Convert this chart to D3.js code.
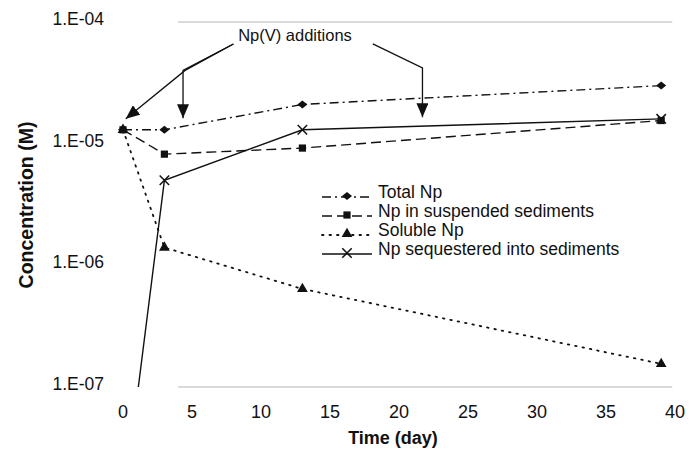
<!DOCTYPE html>
<html>
<head>
<meta charset="utf-8">
<script src="https://cdn.jsdelivr.net/npm/d3@7"></script>
<style>
  body { margin: 0; background: #fff; }
  text { font-family: "Liberation Sans", Arial, sans-serif; fill: #111; }
</style>
</head>
<body>
<div id="chart"></div>
<script>
// data
var days = [0, 3, 13, 39];
var totalNp = [1.3e-5, 1.3e-5, 2.1e-5, 3.0e-5];
var suspendedNp = [1.3e-5, 8.2e-6, 9.2e-6, 1.55e-5];
var solubleNp = [1.3e-5, 1.4e-6, 6.4e-7, 1.55e-7];
var sequesteredNp = [1e-8, 5.0e-6, 1.3e-5, 1.6e-5];
var seriesNames = ["Total Np", "Np in suspended sediments", "Soluble Np", "Np sequestered into sediments"];
var xTicks = [0, 5, 10, 15, 20, 25, 30, 35, 40];
var yTicks = [1e-4, 1e-5, 1e-6, 1e-7];
var yTickLabels = ["1.E-04", "1.E-05", "1.E-06", "1.E-07"];
// Np(V) additions arrows: [start day, start value, elbow day, elbow value, tip day, tip value]
var additionArrows = [
  [8.0, 6.6e-5, 4.5, 4.0e-5, 0.2, 1.6e-5],
  [8.0, 6.6e-5, 4.35, 4.0e-5, 4.35, 1.62e-5],
  [18.1, 6.6e-5, 21.7, 4.2e-5, 21.7, 1.65e-5]
];

var width = 689, height = 457;
var svg = d3.select("#chart").append("svg")
    .attr("width", width).attr("height", height);

var x = d3.scaleLinear().domain([0, 40]).range([123, 675]);
var y = d3.scaleLog().domain([1e-7, 1e-4]).range([387, 22]);

svg.append("defs").append("clipPath").attr("id", "plotclip")
  .append("rect").attr("x", 100).attr("y", y(1e-4) - 10)
  .attr("width", 590).attr("height", y(1e-7) - y(1e-4) + 10);

svg.append("defs").append("marker")
    .attr("id", "arrow").attr("markerUnits", "userSpaceOnUse")
    .attr("viewBox", "0 0 14 12").attr("refX", 14).attr("refY", 6)
    .attr("markerWidth", 14).attr("markerHeight", 12).attr("orient", "auto")
  .append("path").attr("d", "M0,0 L14,6 L0,12 Z").attr("fill", "#111");

// faint frame lines at top and bottom
svg.selectAll(".grid").data([1e-4, 1e-7]).enter().append("line")
    .attr("x1", x(4)).attr("x2", x(39.8))
    .attr("y1", function (d) { return y(d); }).attr("y2", function (d) { return y(d); })
    .attr("stroke", "#b4b4b4").attr("stroke-width", 1.2);

// y tick labels
svg.selectAll(".ylab").data(yTicks).enter().append("text")
    .attr("x", 104).attr("y", function (d) { return y(d) + 3; })
    .attr("text-anchor", "end").style("font-size", "17.5px")
    .text(function (d, i) { return yTickLabels[i]; });

// x tick labels
svg.selectAll(".xlab").data(xTicks).enter().append("text")
    .attr("x", function (d) { return x(d); }).attr("y", 418)
    .attr("text-anchor", "middle").style("font-size", "18px")
    .text(function (d) { return d; });

svg.append("text").attr("x", 393).attr("y", 444).attr("text-anchor", "middle")
    .style("font-size", "18px").style("font-weight", "bold").text("Time (day)");
svg.append("text").attr("transform", "translate(33,205) rotate(-90)")
    .attr("text-anchor", "middle").style("font-size", "19.5px").style("font-weight", "bold")
    .text("Concentration (M)");

var series = [
  { name: seriesNames[0], vals: totalNp, dash: "9,4,2,4", marker: "diamond", order: 1 },
  { name: seriesNames[1], vals: suspendedNp, dash: "10,5", marker: "square", order: 3 },
  { name: seriesNames[2], vals: solubleNp, dash: "1.5,6", marker: "triangle", order: 0 },
  { name: seriesNames[3], vals: sequesteredNp, dash: null, marker: "cross", order: 2 }
];

var symbols = {
  diamond: function () { return "M-5,0L0,-4L5,0L0,4Z"; },
  square: d3.symbol().type(d3.symbolSquare).size(52),
  triangle: d3.symbol().type(d3.symbolTriangle).size(50),
  cross: d3.symbol().type(d3.symbolX).size(60)
};

var line = d3.line()
    .x(function (d) { return x(d[0]); })
    .y(function (d) { return y(d[1]); });

var plot = svg.append("g").attr("clip-path", "url(#plotclip)");
var lineLayer = plot.append("g"), markLayer = plot.append("g");

series.forEach(function (s) {
  var pts = days.map(function (d, i) { return [d, s.vals[i]]; });
  lineLayer.append("path").datum(pts)
      .attr("d", line).attr("fill", "none").attr("stroke", "#111")
      .attr("stroke-width", s.marker === "triangle" ? 1.8 : 1.4)
      .attr("stroke-linecap", s.marker === "triangle" ? "round" : "butt")
      .attr("stroke-dasharray", s.dash);
});

series.slice().sort(function (a, b) { return a.order - b.order; }).forEach(function (s) {
  var pts = days.map(function (d, i) { return [d, s.vals[i]]; });
  markLayer.selectAll(null).data(pts.filter(function (p) { return p[1] >= 1e-7; })).enter().append("path")
      .attr("transform", function (p) { return "translate(" + x(p[0]) + "," + y(p[1]) + ")"; })
      .attr("d", symbols[s.marker])
      .attr("fill", "#111").attr("stroke", "#111")
      .attr("stroke-width", s.marker === "cross" ? 1.5 : 0);
});

// legend
var legend = svg.append("g").attr("transform", "translate(322,193)");
series.forEach(function (s, i) {
  var g = legend.append("g").attr("transform", "translate(0," + (i * 19) + ")");
  g.append("line").attr("x1", 0).attr("x2", 50).attr("y1", 4).attr("y2", 4)
      .attr("stroke", "#111").attr("stroke-width", s.marker === "triangle" ? 1.8 : 1.4)
      .attr("stroke-linecap", s.marker === "triangle" ? "round" : "butt")
      .attr("stroke-dasharray", s.dash);
  g.append("path").attr("transform", "translate(25,3)").attr("d", symbols[s.marker])
      .attr("fill", "#111").attr("stroke", "#111")
      .attr("stroke-width", s.marker === "cross" ? 1.5 : 0);
  g.append("text").attr("x", 56).attr("y", 5).style("font-size", "17.5px").text(s.name);
});

// Np(V) additions annotation
svg.append("text").attr("x", 295).attr("y", 41).attr("text-anchor", "middle")
    .style("font-size", "16.5px").text("Np(V) additions");
additionArrows.forEach(function (a) {
  svg.append("path")
      .attr("d", "M" + x(a[0]) + "," + y(a[1]) + " L" + x(a[2]) + "," + y(a[3]) + " L" + x(a[4]) + "," + y(a[5]))
      .attr("fill", "none").attr("stroke", "#111").attr("stroke-width", 1.3)
      .attr("marker-end", "url(#arrow)");
});
</script>
</body>
</html>
